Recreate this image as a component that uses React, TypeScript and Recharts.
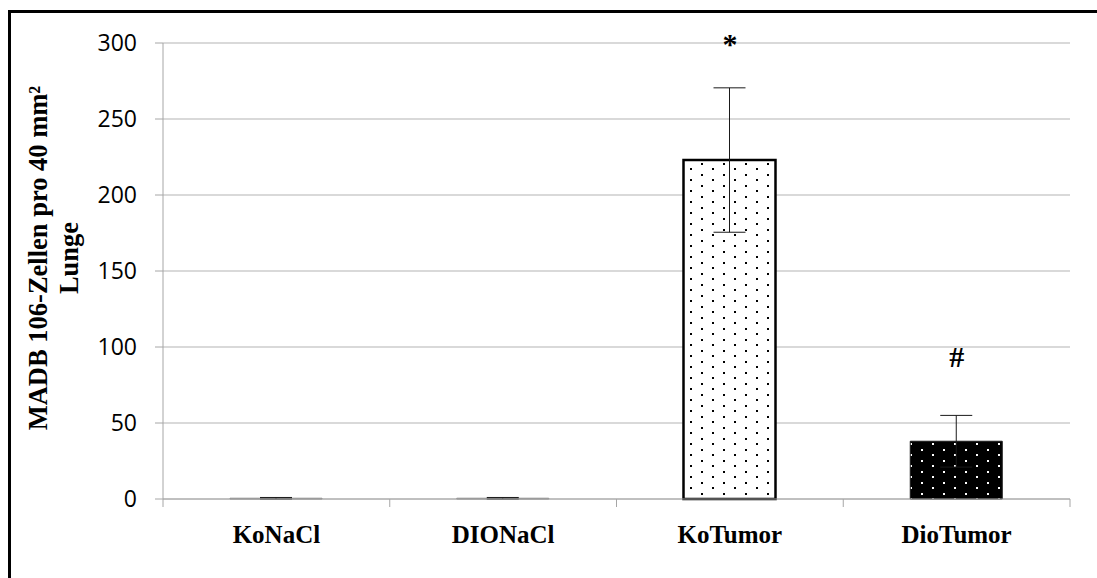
import { BarChart, Bar, XAxis, YAxis, CartesianGrid, ErrorBar, Cell, ReferenceDot } from 'recharts';

const groups = ['KoNaCl', 'DIONaCl', 'KoTumor', 'DioTumor'];
const cellCounts = [0.5, 0.5, 223, 38];
const sem = [0.5, 0.5, 47.5, 17];
const marks = [
  { group: 'KoTumor', y: 300, text: '*' },
  { group: 'DioTumor', y: 94, text: '#' },
];
const yTicks = [0, 50, 100, 150, 200, 250, 300];

const W = 1097;
const H = 578;
const LEFT = 163;
const RIGHT = 27;
const BAND = (W - LEFT - RIGHT) / groups.length;

const fills = ['#ffffff', '#ffffff', 'url(#dotsLight)', 'url(#dotsDark)'];
const strokes = ['#808080', '#808080', '#000000', '#1a1a1a'];
const strokeW = [1, 1, 2.5, 1];

const data = groups.map((g, i) => ({ g, v: cellCounts[i], err: sem[i] }));

const serif = '"Liberation Serif", "Times New Roman", serif';
const sans = '"Open Sans", "Noto Sans", sans-serif';

function GroupTick(props: any) {
  const { x, y, payload, index } = props;
  const left = x - BAND / 2;
  return (
    <g>
      <line x1={left} x2={left} y1={y - 36} y2={y - 28} stroke="#a6a6a6" />
      {index === groups.length - 1 && (
        <line x1={left + BAND} x2={left + BAND} y1={y - 36} y2={y - 28} stroke="#a6a6a6" />
      )}
      <text x={x} y={y} dy={8} textAnchor="middle" fontFamily={serif} fontWeight="bold" fontSize={25} fill="#000">
        {payload.value}
      </text>
    </g>
  );
}

function AxisTitle() {
  const cx = 52;
  const cy = 258;
  return (
    <text transform={`rotate(-90 ${cx} ${cy})`} x={cx} y={cy} textAnchor="middle" fontFamily={serif} fontWeight="bold" fontSize={26.5} fill="#000">
      <tspan x={cx} dy={-5}>MADB 106-Zellen pro 40 mm²</tspan>
      <tspan x={cx} dy={31}>Lunge</tspan>
    </text>
  );
}

export default function App() {
  return (
    <div style={{ position: 'absolute', left: 0, top: 0, width: W, height: H, overflow: 'hidden', background: '#fff' }}>
      <div style={{ position: 'absolute', left: 8, top: 10, width: 1200, height: 700, borderLeft: '3px solid #000', borderTop: '3px solid #000' }} />
      <div style={{ position: 'absolute', left: 0, top: 0 }}>
        <BarChart width={W} height={H} data={data} margin={{ top: 43, right: RIGHT, bottom: 0, left: 0 }} barSize={92}>
          <defs>
            <pattern id="dotsLight" x="0" y="0" width="22" height="11" patternUnits="userSpaceOnUse">
              <rect width="22" height="11" fill="#fff" />
              <rect x="8" y="3" width="2" height="2" fill="#000" shapeRendering="crispEdges" />
              <rect x="19" y="9" width="2" height="2" fill="#000" shapeRendering="crispEdges" />
            </pattern>
            <pattern id="dotsDark" x="0" y="0" width="22" height="11" patternUnits="userSpaceOnUse">
              <rect width="22" height="11" fill="#000" />
              <rect x="8" y="3" width="2" height="2" fill="#fff" shapeRendering="crispEdges" />
              <rect x="19" y="9" width="2" height="2" fill="#fff" shapeRendering="crispEdges" />
            </pattern>
          </defs>
          <CartesianGrid vertical={false} stroke="#b3b3b3" />
          <XAxis
            dataKey="g"
            height={79}
            axisLine={{ stroke: '#a6a6a6' }}
            tickLine={false}
            tick={<GroupTick />}
            tickMargin={30}
            interval={0}
          />
          <YAxis
            width={LEFT}
            domain={[0, 300]}
            ticks={yTicks}
            interval={0}
            axisLine={{ stroke: '#a6a6a6' }}
            tickLine={{ stroke: '#a6a6a6' }}
            tickSize={8}
            tickMargin={18}
            tick={{ fill: '#000', fontSize: 23, fontFamily: sans }}
            label={{ content: <AxisTitle /> }}
          />
          <Bar dataKey="v" isAnimationActive={false}>
            {data.map((d, i) => (
              <Cell key={d.g} fill={fills[i]} stroke={strokes[i]} strokeWidth={strokeW[i]} />
            ))}
            <ErrorBar dataKey="err" width={16} stroke="#1a1a1a" strokeWidth={1} direction="y" />
          </Bar>
          {marks.map(m => (
            <ReferenceDot
              key={m.group}
              x={m.group}
              y={m.y}
              r={0}
              stroke="none"
              label={{ value: m.text, position: 'center', fontFamily: serif, fontWeight: 'bold', fontSize: 30, fill: '#000' }}
            />
          ))}
        </BarChart>
      </div>
    </div>
  );
}
